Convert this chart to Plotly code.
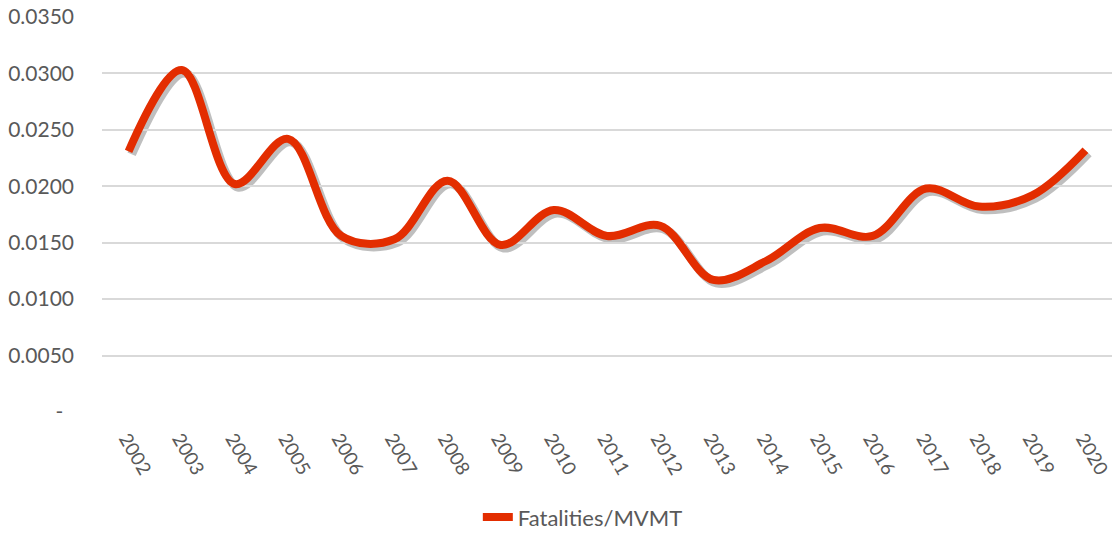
import plotly.graph_objects as go

years = [str(y) for y in range(2002, 2021)]
fatalities_mvmt = [0.0231, 0.0303, 0.0202, 0.0242, 0.0156, 0.0153, 0.0205, 0.0148, 0.0179,
                   0.0156, 0.0165, 0.0117, 0.0134, 0.0163, 0.0156, 0.0198, 0.0182, 0.0192, 0.0232]
tick_vals = [0, 0.005, 0.010, 0.015, 0.020, 0.025, 0.030, 0.035]
tick_text = ["-\u00a0\u00a0", "0.0050", "0.0100", "0.0150", "0.0200", "0.0250", "0.0300", "0.0350"]

W, H = 1117, 539
SH = 3  # shadow offset in px
L, R, T, B = 102, 5 - SH, 17, 127 - SH
pw = W - L - R
ph = H - T - B
dx = SH / pw
dy = SH / ph

font = dict(family="Lato, 'Noto Sans', sans-serif", size=21, color="#595959")
xfont = dict(family=font["family"], size=19, color="#595959")

fig = go.Figure()
# soft shadow (same data, drawn on an axis pair shifted a few pixels)
fig.add_trace(go.Scatter(x=years, y=fatalities_mvmt, mode="lines", xaxis="x", yaxis="y",
                         line=dict(color="rgba(0,0,0,0.25)", width=9, shape="spline", smoothing=1),
                         showlegend=False, hoverinfo="skip"))
fig.add_trace(go.Scatter(x=years, y=fatalities_mvmt, mode="lines", name="Fatalities/MVMT",
                         xaxis="x2", yaxis="y2",
                         line=dict(color="#E32D00", width=8, shape="spline", smoothing=1)))

fig.update_layout(
    width=W, height=H,
    margin=dict(l=L, r=R, t=T, b=B, autoexpand=False),
    paper_bgcolor="white", plot_bgcolor="rgba(0,0,0,0)",
    font=font,
    # shadow axes (shifted right/down by SH px)
    xaxis=dict(type="category", range=[-0.5, 18.5], visible=False, domain=[dx, 1], anchor="y"),
    yaxis=dict(range=[0, 0.035], visible=False, domain=[0, 1 - dy], anchor="x"),
    # main visible axes
    xaxis2=dict(type="category", range=[-0.5, 18.5], tickangle=60, showgrid=False,
                showline=False, zeroline=False, ticks="", tickfont=xfont, domain=[0, 1 - dx],
                anchor="y2", ticklabelstandoff=11, ticklabelshift=-2),
    yaxis2=dict(range=[0, 0.035], tickvals=tick_vals, ticktext=tick_text, showgrid=True,
                gridcolor="#D9D9D9", gridwidth=1.5, zeroline=False, showline=False,
                tickfont=font, ticks="", ticklabelstandoff=27, domain=[dy, 1], anchor="x2"),
    legend=dict(orientation="h", x=0.371, xanchor="left", y=-0.257, yanchor="middle",
                font=dict(family=font["family"], size=22, color="#595959"),
                bgcolor="rgba(0,0,0,0)"),
    showlegend=True,
)

fig.write_html("out.html", config={"displayModeBar": False},
               post_script="document.body.style.margin='0px';")
